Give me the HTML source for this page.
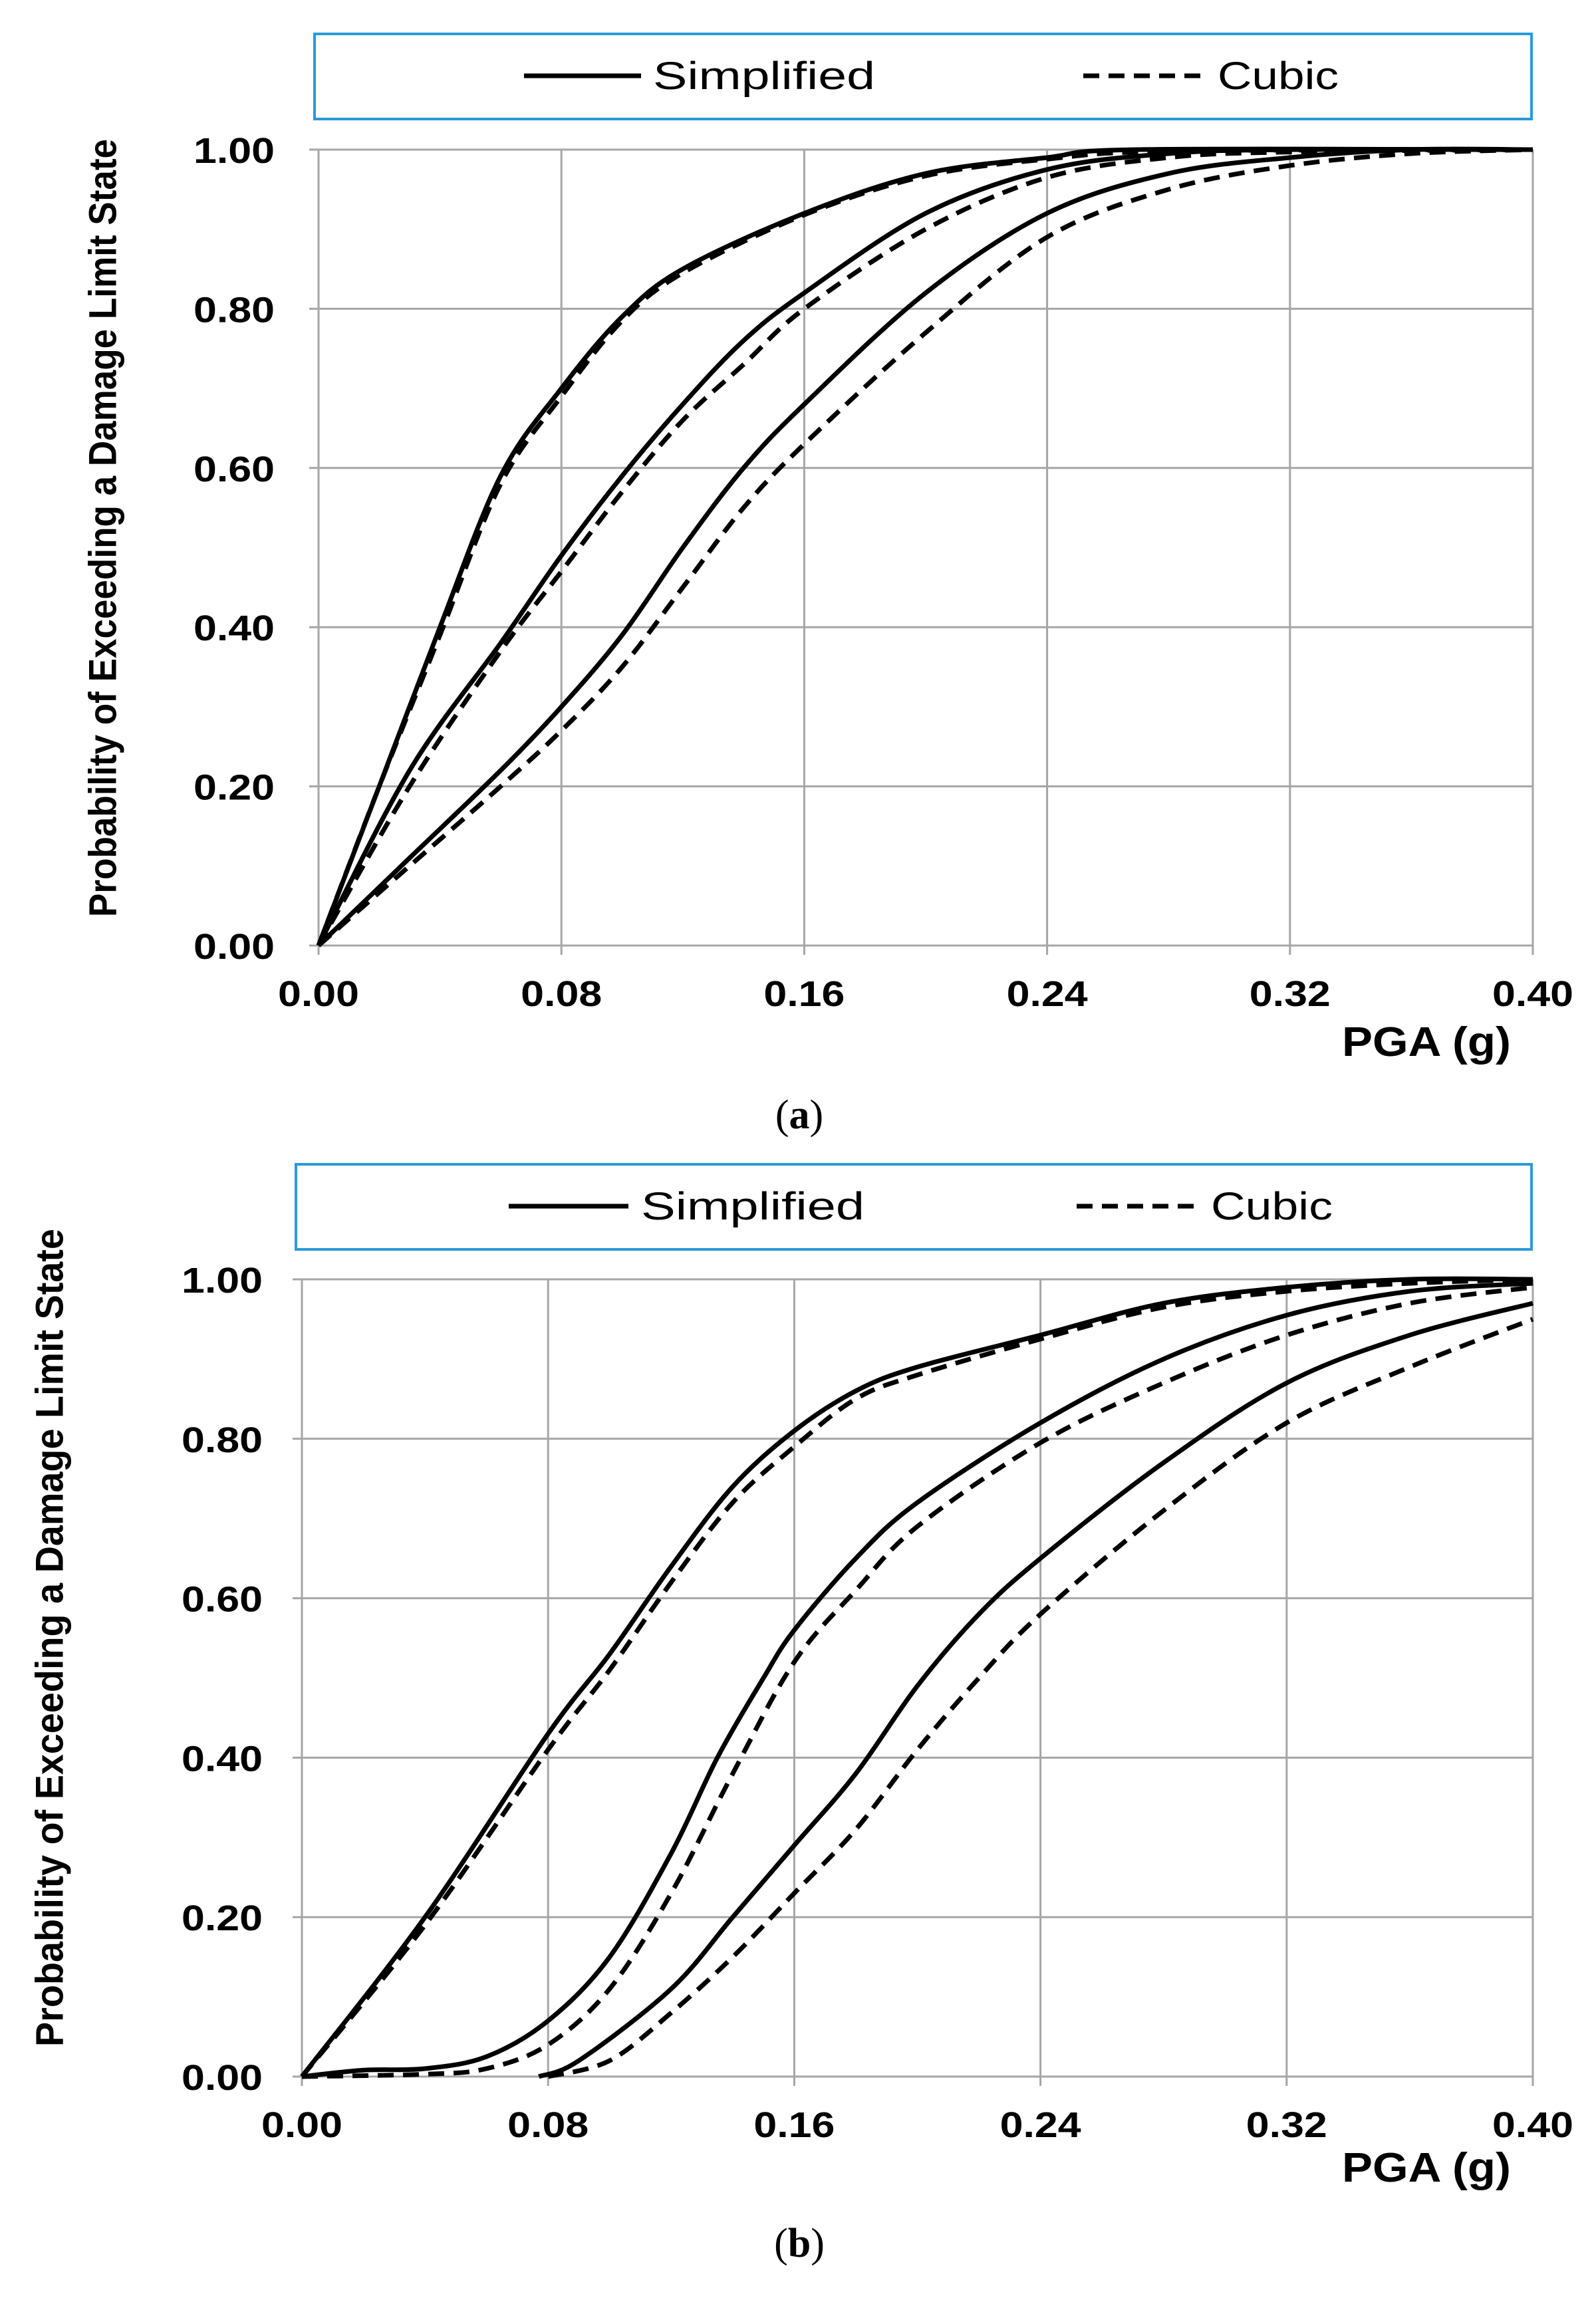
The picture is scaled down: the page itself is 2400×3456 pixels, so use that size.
<!DOCTYPE html>
<html><head><meta charset="utf-8"><style>
html,body{margin:0;padding:0;background:#fff;}
svg{display:block;}
</style></head><body>
<svg id="s" width="2400" height="3456" viewBox="0 0 2400 3456" xmlns="http://www.w3.org/2000/svg">
<rect width="2400" height="3456" fill="#fff"/>
<g id="grid"></g>
<g id="curves" fill="none" stroke="#000" stroke-width="7" stroke-linejoin="round"></g>
<!-- legends -->
<rect x="473" y="51" width="1830" height="128" fill="#fff" stroke="#2a9ad8" stroke-width="4"/>
<line x1="788" y1="114" x2="964" y2="114" stroke="#000" stroke-width="7"/>
<text x="982" y="134" font-family="Liberation Sans, sans-serif" font-size="58" fill="#000" textLength="334" lengthAdjust="spacingAndGlyphs">Simplified</text>
<line x1="1629" y1="114" x2="1813" y2="114" stroke="#000" stroke-width="7" stroke-dasharray="24,14"/>
<text x="1831" y="134" font-family="Liberation Sans, sans-serif" font-size="58" fill="#000" textLength="182" lengthAdjust="spacingAndGlyphs">Cubic</text>

<rect x="445" y="1751" width="1858" height="128" fill="#fff" stroke="#2a9ad8" stroke-width="4"/>
<line x1="765" y1="1814" x2="945" y2="1814" stroke="#000" stroke-width="7"/>
<text x="964" y="1834" font-family="Liberation Sans, sans-serif" font-size="58" fill="#000" textLength="336" lengthAdjust="spacingAndGlyphs">Simplified</text>
<line x1="1619" y1="1814" x2="1798" y2="1814" stroke="#000" stroke-width="7" stroke-dasharray="24,14"/>
<text x="1821" y="1834" font-family="Liberation Sans, sans-serif" font-size="58" fill="#000" textLength="183" lengthAdjust="spacingAndGlyphs">Cubic</text>

<g id="labels" font-family="Liberation Sans, sans-serif" font-weight="bold" fill="#000"></g>

<text x="159" y="794" transform="rotate(-90 159 794)" text-anchor="middle" dominant-baseline="middle" font-family="Liberation Sans, sans-serif" font-weight="bold" font-size="58" textLength="1170" lengthAdjust="spacingAndGlyphs">Probability of  Exceeding a Damage Limit State</text>
<text x="79" y="2463" transform="rotate(-90 79 2463)" text-anchor="middle" dominant-baseline="middle" font-family="Liberation Sans, sans-serif" font-weight="bold" font-size="58" textLength="1230" lengthAdjust="spacingAndGlyphs">Probability of  Exceeding a Damage Limit State</text>

<text x="2272" y="1588" text-anchor="end" font-family="Liberation Sans, sans-serif" font-weight="bold" font-size="62" textLength="254" lengthAdjust="spacingAndGlyphs">PGA (g)</text>
<text x="2272" y="3281" text-anchor="end" font-family="Liberation Sans, sans-serif" font-weight="bold" font-size="62" textLength="254" lengthAdjust="spacingAndGlyphs">PGA (g)</text>

<text x="1202" y="1697" text-anchor="middle" font-family="Liberation Serif, serif" font-size="62">(<tspan font-weight="bold">a</tspan>)</text>
<text x="1202" y="3394" text-anchor="middle" font-family="Liberation Serif, serif" font-size="62">(<tspan font-weight="bold">b</tspan>)</text>
</svg>
<script>
var NS="http://www.w3.org/2000/svg";
var panels=[{x0:479,x1:2305,yT:225,yB:1422,ly:1493,lx:413},{x0:454,x1:2305,yT:1924,yB:3123,ly:3194,lx:395}];
var grid=document.getElementById('grid'),lab=document.getElementById('labels'),cur=document.getElementById('curves');
function el(n,a,p){var e=document.createElementNS(NS,n);for(var k in a)e.setAttribute(k,a[k]);p.appendChild(e);return e;}
panels.forEach(function(p){
 for(var i=0;i<=5;i++){var y=p.yB-(p.yB-p.yT)*i/5;
  el('line',{x1:p.x0-14,x2:p.x1,y1:y,y2:y,stroke:'#a6a6a6','stroke-width':3},grid);
  var t=el('text',{x:p.lx,y:y+20,'text-anchor':'end','font-size':54,textLength:122,lengthAdjust:'spacingAndGlyphs'},lab);t.textContent=(i*0.2).toFixed(2);}
 for(var j=0;j<=5;j++){var x=p.x0+(p.x1-p.x0)*j/5;
  el('line',{x1:x,x2:x,y1:p.yT,y2:p.yB+14,stroke:'#a6a6a6','stroke-width':3},grid);
  var t2=el('text',{x:x,y:p.ly+20,'text-anchor':'middle','font-size':54,textLength:122,lengthAdjust:'spacingAndGlyphs'},lab);t2.textContent=(j*0.08).toFixed(2);}
});
function path(p,pts,dash){
 var P=pts.map(function(q){return [p.x0+(p.x1-p.x0)*q[0]/0.4,p.yB-(p.yB-p.yT)*q[1]];});
 var d='M'+P[0][0]+','+P[0][1];
 for(var i=0;i<P.length-1;i++){
  var a=P[i-1]||P[i],b=P[i],c=P[i+1],e=P[i+2]||c;
  var c1=[b[0]+(c[0]-a[0])/6,b[1]+(c[1]-a[1])/6],c2=[c[0]-(e[0]-b[0])/6,c[1]-(e[1]-b[1])/6];
  d+=' C'+c1+' '+c2+' '+c;}
 var a2={d:d};if(dash)a2['stroke-dasharray']='24,14';el('path',a2,cur);
}
var A=panels[0],B=panels[1];
path(A,[[0,0],[0.02,0.2],[0.04,0.4],[0.06,0.59],[0.08,0.7],[0.10,0.79],[0.12,0.85],[0.16,0.92],[0.20,0.97],[0.24,0.99],[0.27,1.0],[0.4,1]]);
path(A,[[0,0],[0.02,0.2],[0.04,0.39],[0.06,0.58],[0.08,0.69],[0.10,0.785],[0.12,0.845],[0.16,0.918],[0.20,0.967],[0.24,0.988],[0.28,0.998],[0.4,1]],1);
path(A,[[0,0],[0.03,0.22],[0.06,0.38],[0.08,0.49],[0.10,0.59],[0.12,0.68],[0.14,0.76],[0.16,0.82],[0.20,0.92],[0.24,0.975],[0.28,0.995],[0.32,1],[0.4,1]]);
path(A,[[0,0],[0.03,0.2],[0.06,0.37],[0.08,0.47],[0.10,0.57],[0.12,0.66],[0.14,0.73],[0.16,0.80],[0.20,0.90],[0.24,0.965],[0.28,0.99],[0.32,0.997],[0.4,1]],1);
path(A,[[0,0],[0.03,0.11],[0.06,0.22],[0.08,0.30],[0.10,0.39],[0.12,0.50],[0.14,0.60],[0.16,0.68],[0.20,0.82],[0.24,0.92],[0.28,0.97],[0.32,0.99],[0.36,1],[0.4,1]]);
path(A,[[0,0],[0.03,0.10],[0.06,0.20],[0.08,0.27],[0.10,0.35],[0.12,0.45],[0.14,0.55],[0.16,0.63],[0.20,0.77],[0.24,0.89],[0.28,0.95],[0.32,0.98],[0.36,0.995],[0.4,1]],1);
path(B,[[0,0],[0.04,0.2],[0.08,0.43],[0.10,0.53],[0.12,0.64],[0.14,0.74],[0.16,0.81],[0.18,0.86],[0.20,0.89],[0.24,0.93],[0.28,0.97],[0.32,0.99],[0.36,1],[0.4,1]]);
path(B,[[0,0],[0.04,0.19],[0.08,0.41],[0.10,0.51],[0.12,0.62],[0.14,0.72],[0.16,0.79],[0.18,0.85],[0.20,0.88],[0.24,0.925],[0.28,0.965],[0.32,0.985],[0.36,0.995],[0.4,1]],1);
path(B,[[0,0],[0.02,0.008],[0.04,0.01],[0.06,0.025],[0.08,0.07],[0.10,0.15],[0.12,0.28],[0.135,0.40],[0.15,0.50],[0.16,0.56],[0.18,0.65],[0.20,0.72],[0.24,0.82],[0.28,0.90],[0.32,0.955],[0.36,0.985],[0.40,0.995]]);
path(B,[[0,0],[0.04,0.003],[0.06,0.01],[0.08,0.04],[0.10,0.11],[0.12,0.23],[0.14,0.38],[0.16,0.52],[0.18,0.61],[0.20,0.69],[0.24,0.795],[0.28,0.87],[0.32,0.93],[0.36,0.97],[0.40,0.99]],1);
path(B,[[0.077,0],[0.09,0.02],[0.12,0.11],[0.14,0.20],[0.16,0.29],[0.18,0.38],[0.20,0.49],[0.22,0.58],[0.24,0.65],[0.28,0.77],[0.32,0.87],[0.36,0.93],[0.40,0.97]]);
path(B,[[0.08,0],[0.10,0.02],[0.12,0.08],[0.14,0.15],[0.16,0.23],[0.18,0.31],[0.20,0.41],[0.22,0.50],[0.24,0.58],[0.28,0.71],[0.32,0.82],[0.36,0.89],[0.40,0.95]],1);
</script>
</body></html>
